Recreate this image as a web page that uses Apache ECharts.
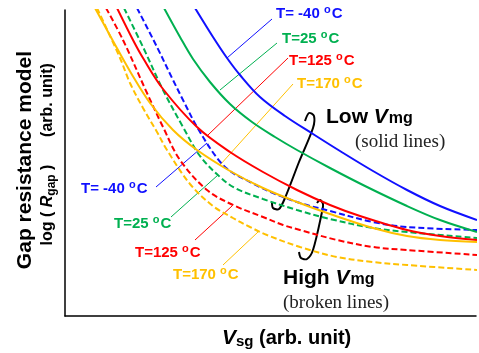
<!DOCTYPE html>
<html>
<head>
<meta charset="utf-8">
<script src="https://cdn.jsdelivr.net/npm/echarts@6/dist/echarts.min.js"></script>
<style>
  html, body { margin: 0; padding: 0; background: #fff; }
  #chart { width: 479px; height: 353px; }
</style>
</head>
<body>
<div id="chart"></div>
<script>
// curves (arb. units)
// low Vmg = solid lines
const lowBlue = [[130,308],[148,279],[162,258],[175,241],[195,219],[220,200],[248,182],[275,165],[308,145],[342,126],[375,110],[412,96]]
const lowGreen = [[99,308],[115,279],[128,257],[145,234],[165,212],[187,194],[210,179],[232,166],[265,148],[300,130],[342,110],[375,96],[412,84]]
const lowRed = [[52,308],[68,276],[78,258],[98,227],[132,189],[165,164],[198,144],[232,126],[265,111],[295,100],[342,86],[375,80],[412,76]]
const lowOrange = [[30,308],[48,275],[66,243],[85,213],[108,186],[132,166],[165,145],[198,128],[232,114],[265,102],[308,88],[342,80],[375,76],[412,74]]
// high Vmg = broken lines
const highBlue = [[72,308],[92,269],[108,236],[118,216],[132,189],[152,158],[165,145],[185,134],[208,123],[235,113],[265,105],[308,94],[342,89],[412,86]]
const highGreen = [[59,308],[78,269],[98,226],[118,189],[135,160],[155,139],[170,128],[198,117],[232,106],[265,97],[308,88],[342,84],[412,78]]
const highRed = [[41,308],[58,276],[82,223],[98,189],[115,156],[142,126],[168,111],[198,99],[218,91],[235,86],[272,76],[308,69],[342,66],[412,61]]
const highOrange = [[32,308],[55,258],[65,233],[78,208],[92,184],[102,166],[125,132],[148,110],[168,98],[185,89],[202,81],[235,69],[272,59],[308,54],[342,51],[412,46]]

const tempLabels = ['T= -40 ', 'T=25 ', 'T=125 ', 'T=170 ']
const colors = ['#1010ff', '#00b050', '#ff0000', '#ffc000']

// leader lines: [from label, to curve]
const lowLeaders = [[[207,297],[162,258]], [[212,273],[155,226]], [[223,258],[143,181]], [[228,232],[155,151]]]
const highLeaders = [[[91,129],[142,173]], [[106,99],[153,141]], [[130,76],[167,110]], [[158,51],[193,84]]]

const lowSeries = [lowBlue, lowGreen, lowRed, lowOrange]
const highSeries = [highBlue, highGreen, highRed, highOrange]

const sans = '"Liberation Sans", Arial, sans-serif'
const serif = '"Liberation Serif", "Times New Roman", serif'

const chart = echarts.init(document.getElementById('chart'))

const series = []
lowSeries.forEach((d, i) => {
  series.push({
    type: 'line', data: d, smooth: 0.35, showSymbol: false, silent: true,
    lineStyle: { color: colors[i], width: 2 }, z: 3
  })
})
highSeries.forEach((d, i) => {
  series.push({
    type: 'line', data: d, smooth: 0.35, showSymbol: false, silent: true,
    lineStyle: { color: colors[i], width: 2, type: [6, 3] }, z: 2
  })
})
lowLeaders.concat(highLeaders).forEach((d, i) => {
  series.push({
    type: 'line', data: d, showSymbol: false, silent: true,
    lineStyle: { color: colors[i % 4], width: 1 }, z: 1
  })
})

// label positions (left, middle)
const lowLabelPos = [[276,14],[282,39],[289,61],[297,84]]
const highLabelPos = [[81,189],[114,224],[135,253],[173,275]]

const graphic = []
lowLabelPos.concat(highLabelPos).forEach((p, i) => {
  const c = colors[i % 4]
  graphic.push({
    type: 'text', x: p[0], y: p[1],
    style: {
      text: '{t|' + tempLabels[i % 4] + '}{o|o}{t|C}', verticalAlign: 'middle',
      rich: {
        t: { font: 'bold 15px ' + sans, fill: c },
        o: { font: 'bold 11px ' + sans, fill: c, padding: [0, 1, 9, 0] }
      }
    }
  })
})

const richBold = (size) => ({ font: 'bold ' + size + 'px ' + sans, fill: '#000' })

graphic.push(
  {
    type: 'text', x: 326, y: 117,
    style: {
      text: '{a|Low }{v|V}{s|mg}', verticalAlign: 'middle',
      rich: { a: richBold(21), v: { font: 'italic bold 21px ' + sans }, s: { font: 'bold 16px ' + sans, padding: [3, 0, 0, 1] } }
    }
  },
  { type: 'text', x: 355, y: 142, style: { text: '(solid lines)', font: '19px ' + serif, fill: '#222', verticalAlign: 'middle' } },
  {
    type: 'text', x: 283, y: 278,
    style: {
      text: '{a|High }{v|V}{s|mg}', verticalAlign: 'middle',
      rich: { a: richBold(21), v: { font: 'italic bold 21px ' + sans }, s: { font: 'bold 16px ' + sans, padding: [3, 0, 0, 1] } }
    }
  },
  { type: 'text', x: 283, y: 303, style: { text: '(broken lines)', font: '19px ' + serif, fill: '#222', verticalAlign: 'middle' } },
  // brackets
  {
    type: 'polyline', silent: true,
    shape: { points: [[305,121],[309,113],[314,116],[313,128],[299,162],[285,198],[279,209],[273,208],[272,202]], smooth: 0.3 },
    style: { stroke: '#000', lineWidth: 2, fill: null }
  },
  {
    type: 'polyline', silent: true,
    shape: { points: [[317,203],[320,200],[323,204],[322,212],[313,250],[307,259],[301,258],[299,252]], smooth: 0.3 },
    style: { stroke: '#000', lineWidth: 2, fill: null }
  },
  // axis titles
  {
    type: 'text', x: 222, y: 338,
    style: {
      text: '{v|V}{s|sg}{a| (arb. unit)}', verticalAlign: 'middle',
      rich: { a: richBold(20), v: { font: 'italic bold 21px ' + sans }, s: { font: 'bold 15px ' + sans, padding: [8, 0, 0, 0] } }
    }
  },
  {
    type: 'group', x: 25, y: 160, rotation: Math.PI / 2,
    children: [{ type: 'text', style: { text: 'Gap resistance model', font: 'bold 21px ' + sans, fill: '#000', align: 'center', verticalAlign: 'middle' } }]
  },
  {
    type: 'group', x: 48, y: 205, rotation: Math.PI / 2,
    children: [{
      type: 'text',
      style: {
        text: '{a|log ( }{r|R}{s|gap}{a| )}', align: 'center', verticalAlign: 'middle',
        rich: { a: richBold(16), r: { font: 'italic bold 16px ' + sans }, s: { font: 'bold 12px ' + sans, padding: [7, 0, 0, 0] } }
      }
    }]
  },
  {
    type: 'group', x: 48, y: 100, rotation: Math.PI / 2,
    children: [{ type: 'text', style: { text: '(arb. unit)', font: 'bold 16px ' + sans, fill: '#000', align: 'center', verticalAlign: 'middle' } }]
  }
)

chart.setOption({
  animation: false,
  grid: { left: 65, right: 3, top: 10, bottom: 37 },
  xAxis: {
    type: 'value', min: 0, max: 411,
    axisLine: { lineStyle: { color: '#000', width: 1.5 } },
    axisTick: { show: false }, axisLabel: { show: false }, splitLine: { show: false }
  },
  yAxis: {
    type: 'value', min: 0, max: 306,
    axisLine: { show: true, lineStyle: { color: '#000', width: 1.5 } },
    axisTick: { show: false }, axisLabel: { show: false }, splitLine: { show: false }
  },
  series: series,
  graphic: graphic
})
</script>
</body>
</html>
